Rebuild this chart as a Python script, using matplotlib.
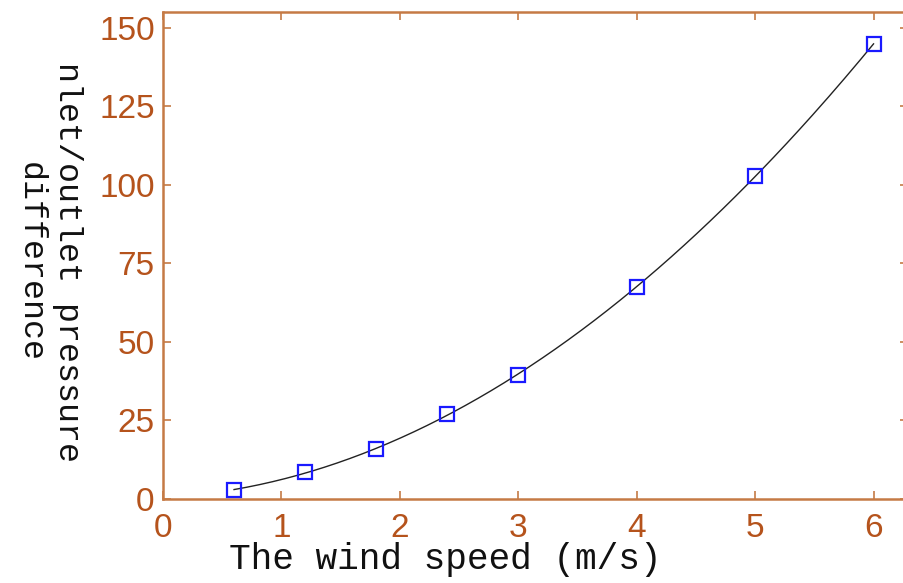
import numpy as np
import matplotlib
matplotlib.use("Agg")
import matplotlib.pyplot as plt

wind_speed = [0.6, 1.2, 1.8, 2.4, 3.0, 4.0, 5.0, 6.0]
pressure_diff = [2.9, 8.5, 15.8, 27.0, 39.6, 67.5, 102.8, 144.8]
xticks = [0, 1, 2, 3, 4, 5, 6]
yticks = [0, 25, 50, 75, 100, 125, 150]

tick_color = "#b5531c"
spine_color = "#c57a45"

fig = plt.figure(figsize=(9.04, 5.83), dpi=100)
ax = fig.add_axes([0.1803, 0.1441, 0.8240, 0.8353])

# smooth trend line through the measured points
x = np.array(wind_speed)
y = np.array(pressure_diff)
coef = np.polyfit(x, y, 3)
xs = np.linspace(x.min(), x.max(), 200)
ax.plot(xs, np.polyval(coef, xs), color="#222222", lw=1.0, zorder=2)
ax.plot(x, y, ls="none", marker="s", ms=10, mfc="none", mec="#1a1aff", mew=1.6, zorder=3)

ax.set_xlim(0, 6.29)
ax.set_ylim(0, 155)
ax.set_xticks(xticks)
ax.set_yticks(yticks)
ax.tick_params(axis="both", which="both", direction="in", length=6, width=1.2,
               color=spine_color, labelcolor=tick_color, labelsize=24,
               top=True, right=True)
ax.tick_params(axis="x", pad=10)
ax.tick_params(axis="y", pad=6)
for lbl in ax.get_xticklabels() + ax.get_yticklabels():
    lbl.set_fontfamily("Liberation Sans")
for s in ax.spines.values():
    s.set_color(spine_color)
    s.set_linewidth(1.8)

fig.text(0.492, 0.04, "The wind speed (m/s)", family="Liberation Mono", fontsize=26,
         color="#111111", ha="center", va="center")
fig.text(0.075, 0.55, "nlet/outlet pressure", rotation=-90, family="Liberation Mono",
         fontsize=24, color="#111111", ha="center", va="center")
fig.text(0.033, 0.55, "difference", rotation=-90, family="Liberation Mono",
         fontsize=24, color="#111111", ha="center", va="center")

fig.savefig("out.png", dpi=100)
